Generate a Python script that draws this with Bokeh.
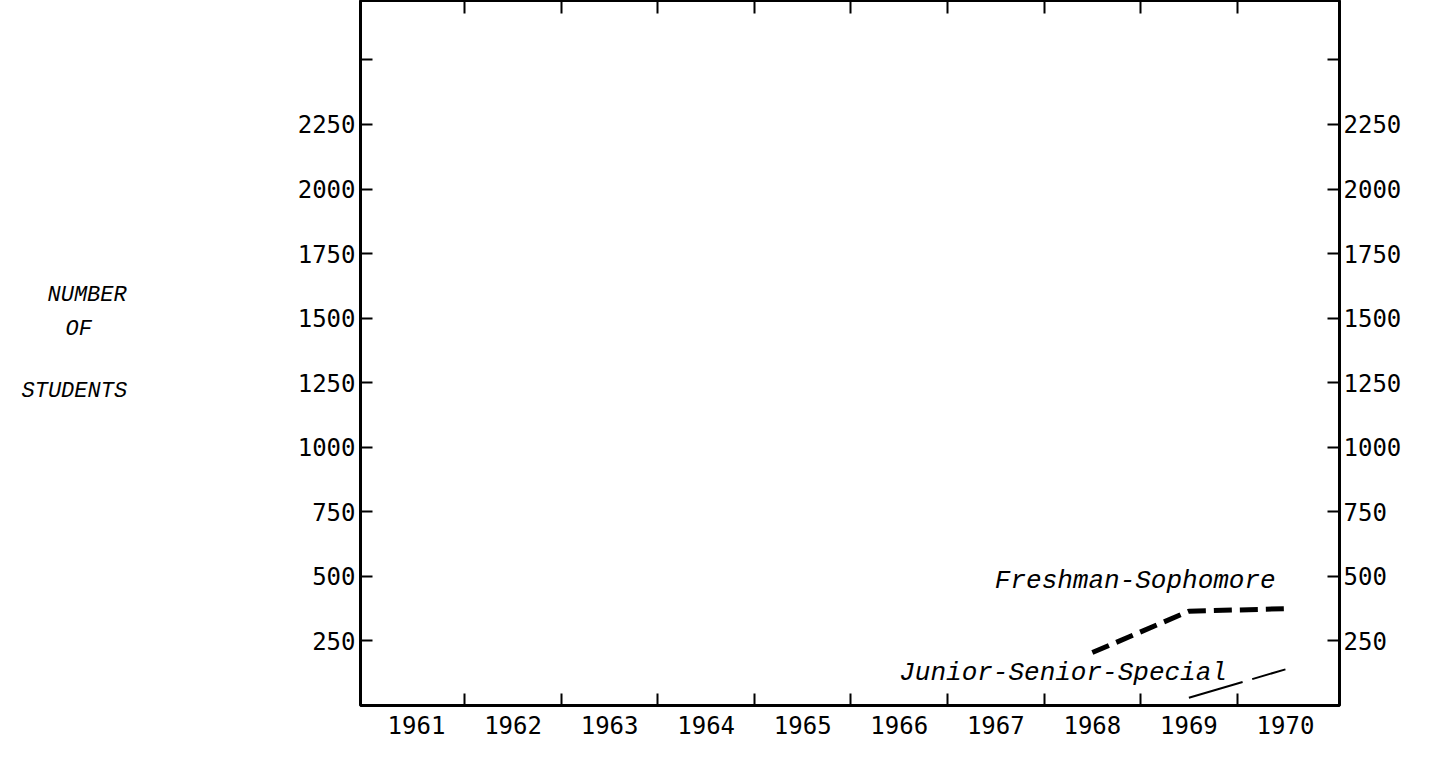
from bokeh.plotting import figure
from bokeh.layouts import row
from bokeh.models import FixedTicker, LinearAxis, Range1d, Label
from bokeh.core.properties import value
from bokeh.embed import file_html
from bokeh.resources import INLINE

# ---- data ----
years = [1961, 1962, 1963, 1964, 1965, 1966, 1967, 1968, 1969, 1970]
year_bounds = [1961.5, 1962.5, 1963.5, 1964.5, 1965.5, 1966.5, 1967.5, 1968.5, 1969.5]
y_ticks = [250, 500, 750, 1000, 1250, 1500, 1750, 2000, 2250, 2500]
y_tick_labels = {2500: ""}

fresh_years = [1968, 1969, 1970]
fresh_students = [205, 365, 375]

junior_years = [1969, 1970]
junior_students = [30, 140]

title_words = ["NUMBER", "OF", "STUDENTS"]

MONO = "DejaVu Sans Mono"
ITAL = "Liberation Mono"

# ---- left panel holding the vertical-axis title (page pixels) ----
TW = 270
tp = figure(width=TW, height=742, output_backend="svg", toolbar_location=None,
            x_range=Range1d(0, TW), y_range=Range1d(742, 0),
            min_border_left=0, min_border_right=0, min_border_top=0, min_border_bottom=0,
            x_axis_location=None, y_axis_location=None)
tp.xgrid.visible = False
tp.ygrid.visible = False
tp.outline_line_color = None
tp.text(x=[47, 65, 21], y=[310, 346, 411], text=title_words,
        text_font=value(ITAL), text_font_style="italic", text_font_size="22px",
        text_align="left", text_baseline="middle", text_color="black")

# ---- main chart ----
p = figure(width=1416 - TW, height=742, output_backend="svg", toolbar_location=None,
           x_range=Range1d(1960.42, 1970.56), y_range=Range1d(0, 2730),
           min_border_left=368 - 8 - TW, min_border_right=77, min_border_top=0,
           min_border_bottom=37, x_axis_location=None, y_axis_location=None)
p.xgrid.visible = False
p.ygrid.visible = False
p.outline_line_color = "black"
p.outline_line_width = 3

def style_axis(ax):
    ax.axis_line_color = None
    ax.major_tick_line_color = "black"
    ax.major_tick_line_width = 2
    ax.minor_tick_line_color = "black"
    ax.minor_tick_line_width = 2
    ax.major_label_text_font = MONO
    ax.major_label_text_font_size = "24px"
    ax.major_label_text_color = "black"

bottom = LinearAxis(ticker=FixedTicker(ticks=years, minor_ticks=year_bounds))
style_axis(bottom)
bottom.major_tick_in = 0
bottom.major_tick_out = 0
bottom.minor_tick_in = 12
bottom.minor_tick_out = 0
bottom.major_label_standoff = 10
p.add_layout(bottom, "below")

top = LinearAxis(ticker=FixedTicker(ticks=[], minor_ticks=year_bounds))
style_axis(top)
top.major_tick_in = 0
top.major_tick_out = 0
top.minor_tick_in = 13
top.minor_tick_out = 0
top.major_label_standoff = 0
top.major_label_text_font_size = "0px"
p.add_layout(top, "above")

left = LinearAxis(ticker=FixedTicker(ticks=y_ticks), major_label_overrides=y_tick_labels)
style_axis(left)
left.major_tick_in = 12
left.major_tick_out = 0
left.minor_tick_line_color = None
left.major_label_standoff = 5
p.add_layout(left, "left")

right = LinearAxis(ticker=FixedTicker(ticks=y_ticks), major_label_overrides=y_tick_labels)
style_axis(right)
right.major_tick_in = 12
right.major_tick_out = 0
right.minor_tick_line_color = None
right.major_label_standoff = 4
p.add_layout(right, "right")

p.line(fresh_years, fresh_students, line_color="black", line_width=5, line_dash="18 8")
p.line(junior_years, junior_students, line_color="black", line_width=2, line_dash="56 10")

p.add_layout(Label(x=1966.99, y=482, text="Freshman-Sophomore", text_font=ITAL,
                   text_font_style="italic", text_font_size="26px", text_baseline="middle",
                   text_color="black"))
p.add_layout(Label(x=1966.0, y=125, text="Junior-Senior-Special", text_font=ITAL,
                   text_font_style="italic", text_font_size="26px", text_baseline="middle",
                   text_color="black"))

layout = row(tp, p, spacing=0)
open("out.html", "w").write(file_html(layout, INLINE))
